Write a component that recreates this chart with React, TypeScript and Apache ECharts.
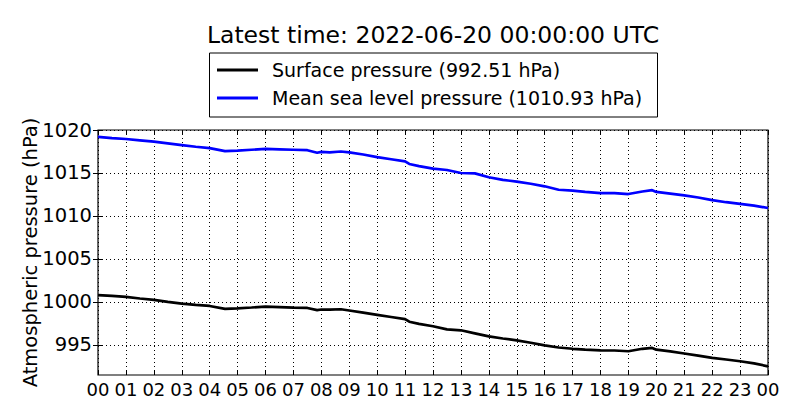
import React, { useEffect, useRef } from 'react';
import * as echarts from 'echarts';

// hours since 2022-06-19 00:00 UTC
const hours = [
  0, 0.5, 1, 1.5, 2, 2.5, 3, 3.5, 4, 4.55, 5, 5.5, 6, 6.5, 7, 7.5, 7.85, 8, 8.3, 8.7,
  9, 9.5, 10, 10.5, 11, 11.15, 11.5, 12, 12.5, 13, 13.5, 14, 14.5, 15, 15.5, 16, 16.5,
  17, 17.45, 18, 18.5, 19, 19.5, 19.85, 20, 20.5, 21, 21.5, 22, 22.5, 23, 23.5, 24,
];

const surfacePressure = [
  1000.8, 1000.7, 1000.58, 1000.4, 1000.23, 1000.0, 999.8, 999.65, 999.53, 999.2, 999.26,
  999.35, 999.45, 999.4, 999.34, 999.3, 999.05, 999.12, 999.1, 999.15, 999.0, 998.75,
  998.5, 998.25, 998.0, 997.7, 997.45, 997.17, 996.8, 996.7, 996.35, 996.0, 995.75,
  995.53, 995.25, 994.95, 994.7, 994.55, 994.45, 994.37, 994.35, 994.26, 994.55, 994.65,
  994.45, 994.25, 994.0, 993.75, 993.5, 993.3, 993.1, 992.85, 992.51,
];

const mslPressure = [
  1019.2, 1019.05, 1018.95, 1018.8, 1018.65, 1018.45, 1018.25, 1018.05, 1017.9, 1017.55,
  1017.6, 1017.7, 1017.8, 1017.75, 1017.7, 1017.65, 1017.35, 1017.45, 1017.4, 1017.5,
  1017.4, 1017.15, 1016.85, 1016.6, 1016.35, 1016.05, 1015.8, 1015.5, 1015.35, 1015.0,
  1014.95, 1014.5, 1014.2, 1014.0, 1013.75, 1013.45, 1013.05, 1012.95, 1012.8, 1012.65,
  1012.65, 1012.55, 1012.85, 1013.0, 1012.8, 1012.6, 1012.4, 1012.15, 1011.85, 1011.6,
  1011.4, 1011.2, 1010.93,
];

const yTicks = [995, 1000, 1005, 1010, 1015, 1020];

const FONT = 'DejaVu Sans';

const App: React.FC = () => {
  const chartRef = useRef<HTMLDivElement>(null);

  useEffect(() => {
    if (!chartRef.current) return;
    const chart = echarts.init(chartRef.current, undefined, { renderer: 'svg' });

    const hourLabel = (v: number) => String(v % 24).padStart(2, '0');
    const gridLine = { show: true, lineStyle: { color: '#000', width: 1, type: [1, 3] as number[] } };

    const option = {
      animation: false,
      textStyle: { fontFamily: FONT },
      grid: {
        left: 98,
        right: 32,
        top: 130,
        bottom: 45,
        show: true,
        borderColor: '#000',
        borderWidth: 1.2,
        backgroundColor: 'transparent',
      },
      graphic: [
        {
          type: 'text',
          x: 433,
          y: 35,
          style: {
            text: 'Latest time: 2022-06-20 00:00:00 UTC',
            fontFamily: FONT,
            fontSize: 23.5,
            fill: '#000',
            textAlign: 'center',
            textVerticalAlign: 'middle',
          },
        },
        {
          type: 'rect',
          shape: { x: 209.5, y: 53, width: 448, height: 64 },
          style: { fill: '#fff', stroke: '#000', lineWidth: 1 },
          z: 0,
        },
      ],
      legend: {
        orient: 'vertical',
        left: 217,
        top: 60,
        padding: 0,
        itemGap: 8,
        itemWidth: 41,
        itemHeight: 3,
        icon: 'rect',
        z: 10,
        textStyle: {
          fontFamily: FONT,
          fontSize: 19,
          color: '#000',
          lineHeight: 20,
          padding: [0, 0, 0, 9],
        },
        data: ['Surface pressure (992.51 hPa)', 'Mean sea level pressure (1010.93 hPa)'],
      },
      xAxis: [
        {
          type: 'value',
          min: 0,
          max: 24,
          interval: 1,
          axisLine: { show: false },
          axisTick: { show: true, inside: true, length: 5, lineStyle: { color: '#000' } },
          axisLabel: { formatter: hourLabel, color: '#000', fontSize: 18, fontFamily: FONT, margin: 5 },
          splitLine: gridLine,
        },
        {
          type: 'value',
          position: 'top',
          min: 0,
          max: 24,
          interval: 1,
          axisLine: { show: false },
          axisTick: { show: true, inside: true, length: 5, lineStyle: { color: '#000' } },
          axisLabel: { show: false },
          splitLine: { show: false },
        },
      ],
      yAxis: [
        {
          type: 'value',
          min: 991.5,
          max: 1020,
          name: 'Atmospheric pressure (hPa)',
          nameLocation: 'middle',
          nameGap: 58,
          nameMoveOverlap: false,
          nameTextStyle: { fontFamily: FONT, fontSize: 19.5, color: '#000' },
          axisLine: { show: false },
          axisTick: {
            show: true,
            inside: true,
            length: 5,
            customValues: yTicks,
            lineStyle: { color: '#000' },
          },
          axisLabel: {
            customValues: yTicks,
            formatter: (v: number) => String(v),
            color: '#000',
            fontSize: 19.5,
            fontFamily: FONT,
            margin: 6,
          },
          splitLine: gridLine,
        },
        {
          type: 'value',
          position: 'right',
          min: 991.5,
          max: 1020,
          axisLine: { show: false },
          axisTick: {
            show: true,
            inside: true,
            length: 5,
            customValues: yTicks,
            lineStyle: { color: '#000' },
          },
          axisLabel: { show: false },
          splitLine: { show: false },
        },
      ],
      series: [
        {
          name: 'Surface pressure (992.51 hPa)',
          type: 'line',
          xAxisIndex: 0,
          yAxisIndex: 0,
          showSymbol: false,
          data: hours.map((h, i) => [h, surfacePressure[i]]),
          lineStyle: { color: '#000', width: 2.7 },
          itemStyle: { color: '#000' },
        },
        {
          name: 'Mean sea level pressure (1010.93 hPa)',
          type: 'line',
          xAxisIndex: 0,
          yAxisIndex: 0,
          showSymbol: false,
          data: hours.map((h, i) => [h, mslPressure[i]]),
          lineStyle: { color: '#0000ff', width: 2.7 },
          itemStyle: { color: '#0000ff' },
        },
      ],
    };

    chart.setOption(option);
    return () => chart.dispose();
  }, []);

  return (
    <div
      ref={chartRef}
      style={{ position: 'fixed', left: 0, top: 0, width: 800, height: 420, background: '#fff' }}
    />
  );
};

export default App;
